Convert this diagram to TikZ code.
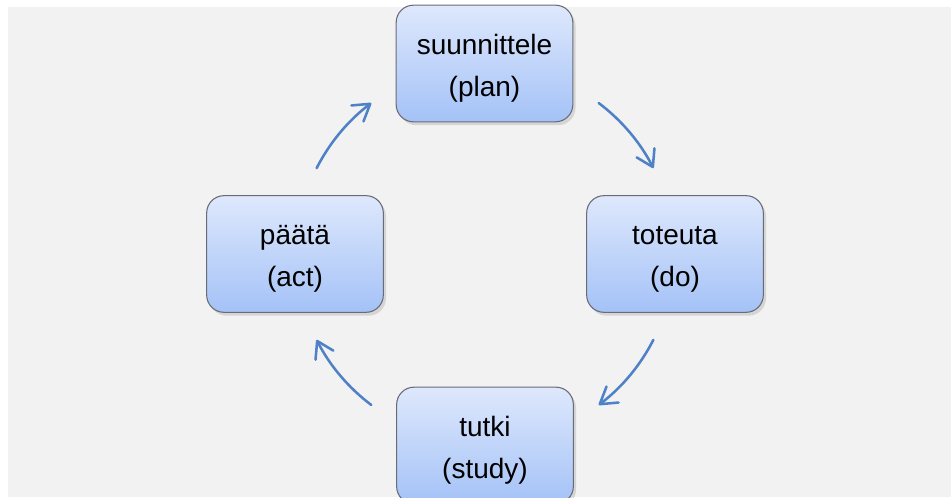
\documentclass[tikz,border=0pt]{standalone}
\usepackage{fontspec}
\setmainfont{Liberation Sans}
\usetikzlibrary{arrows.meta,shadows}
\definecolor{bg}{RGB}{242,242,242}
\definecolor{boxtop}{RGB}{222,232,252}
\definecolor{boxbot}{RGB}{164,194,247}
\definecolor{boxline}{RGB}{105,108,118}
\definecolor{arrowblue}{RGB}{79,129,199}
\newcommand{\twolines}[2]{\rule{0pt}{22pt}#1\\#2}
\begin{document}
\begin{tikzpicture}[x=0.75pt,y=0.75pt,
  stage/.style={draw=boxline, line width=0.8pt, rounded corners=13pt,
    top color=boxtop, bottom color=boxbot,
    minimum width=132.5pt, minimum height=87.5pt, align=center,
    font=\fontsize{21}{31.5}\selectfont,
    drop shadow={shadow xshift=2pt,shadow yshift=-2.5pt,opacity=0.25}},
  cyc/.style={draw=arrowblue, line width=1.9pt, line cap=round,
    -{Straight Barb[length=12pt,width=15pt,round]}}]
\fill[white] (0,0) rectangle (951,497);
\useasboundingbox (0,0) rectangle (951,497);
\clip (0,0) rectangle (951,497);
\fill[bg] (8,0) rectangle (951,490);
\node[stage] (plan) at (484.5,433.5) {\twolines{suunnittele}{(plan)}};
\node[stage] (do) at (675,243) {\twolines{toteuta}{(do)}};
\node[stage] (study) at (485,51.5) {\twolines{tutki}{(study)}};
\node[stage] (act) at (295,243) {\twolines{päätä}{(act)}};
\coordinate (c) at (485,243);
\draw[cyc] ([shift={(53:141.75pt)}]c) arc[start angle=53,end angle=27,radius=141.75pt];
\draw[cyc] ([shift={(-27:141.75pt)}]c) arc[start angle=-27,end angle=-53,radius=141.75pt];
\draw[cyc] ([shift={(-127:141.75pt)}]c) arc[start angle=-127,end angle=-153,radius=141.75pt];
\draw[cyc] ([shift={(153:141.75pt)}]c) arc[start angle=153,end angle=127,radius=141.75pt];
\end{tikzpicture}
\end{document}
